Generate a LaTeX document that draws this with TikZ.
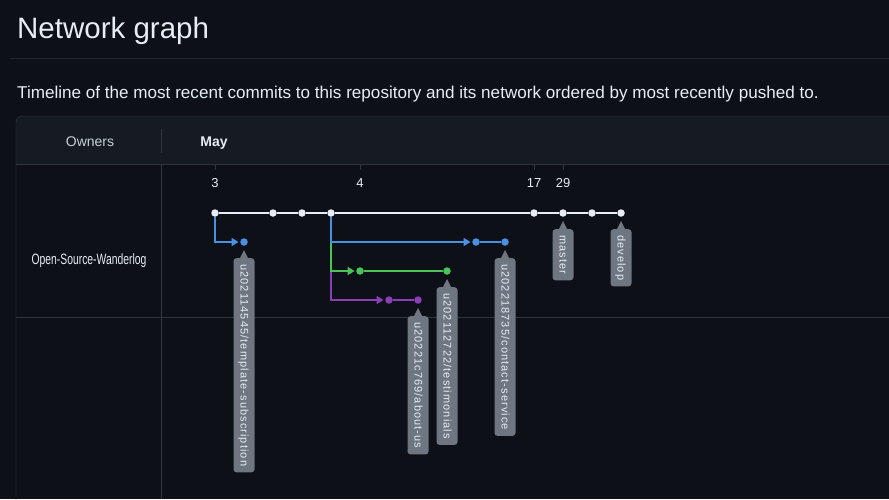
\documentclass[tikz,border=0pt]{standalone}
\usepackage{fontspec}
\setmainfont{Liberation Sans}
\newfontfamily\tagfont[LetterSpace=10]{Liberation Sans}
\newfontfamily\narrowfont[FakeStretch=0.69]{Liberation Sans}
\usepackage{xcolor}
\usetikzlibrary{arrows.meta}
\definecolor{bgdark}{HTML}{0D1117}
\definecolor{bghead}{HTML}{161B22}
\definecolor{rule}{HTML}{30363D}
\definecolor{rulesoft}{HTML}{21262D}
\definecolor{txt}{HTML}{E6EDF3}
\definecolor{txtsoft}{HTML}{C9D1D9}
\definecolor{gblue}{HTML}{4A90E2}
\definecolor{ggreen}{HTML}{4CC35A}
\definecolor{gpurple}{HTML}{8A3FB8}
\definecolor{taggray}{HTML}{6E7681}
\tikzstyle{commit}=[circle, inner sep=0pt, minimum size=7.5pt]
\tikzstyle{edge}=[line width=2pt]
\tikzstyle{tip>}=[-{Triangle[length=7pt,width=8pt]}, shorten >=1.5pt]
\tikzstyle{tag}=[rotate=-90, anchor=west, fill=taggray, rounded corners=3pt, text=txt,
  font=\tagfont\fontsize{11}{11}\selectfont, minimum height=21pt,
  inner xsep=6pt, inner ysep=0pt, text height=8pt, text depth=1pt]
\tikzstyle{lbl}=[inner sep=0pt, anchor=base]

\begin{document}
\begin{tikzpicture}[x=1pt,y=-1pt]
\fill[bgdark] (0,0) rectangle (889,499);
\useasboundingbox (0,0) rectangle (889,499);
% heading
\node[lbl, anchor=base west, text=txt, font=\fontsize{29.5}{34}\selectfont] (title) at (17,38) {Network graph};
\draw[rulesoft] (10,58) -- (889,58);
\node[lbl, anchor=base west, text=txt, font=\fontsize{17.1}{20}\selectfont] (sub) at (17,98)
  {Timeline of the most recent commits to this repository and its network ordered by most recently pushed to.};
% table frame
\fill[bghead] (16,164) [rounded corners=6pt] -- (16,116) -- (900,116) [sharp corners] -- (900,164) -- cycle;
\draw[rule] (16,510) [rounded corners=6pt] -- (16,116) -- (900,116);
\draw[rule] (16,164) -- (889,164);
\draw[rule] (16,317) -- (889,317);
\draw[rule] (161,164) -- (161,499);
\draw[rule] (161,129) -- (161,153);
\node[lbl, text=txtsoft, font=\fontsize{14}{16}\selectfont] (owners) at (90,146) {Owners};
\node[lbl, text=txt, font=\bfseries\fontsize{14}{16}\selectfont] (month) at (214,146) {May};
\node[lbl, text=txt, font=\narrowfont\fontsize{15}{17}\selectfont] (owner) at (89,264) {Open-Source-Wanderlog};
% days
\foreach \c/\d in {0/3,5/4,11/17,12/29}{
  \draw[rule] ({215+29*\c},164) -- ++(0,6);
  \node[lbl, text=txt, font=\fontsize{13}{15}\selectfont] (day\d) at ({215+29*\c},187) {\d};
}
% commits
\foreach \c in {0,2,3,4,11,12,13,14}
  \node[commit, fill=txt] (m\c) at ({215+29*\c},213) {};
\foreach \c in {1,9,10}
  \node[commit, fill=gblue] (b\c) at ({215+29*\c},242) {};
\foreach \c in {5,8}
  \node[commit, fill=ggreen] (g\c) at ({215+29*\c},271) {};
\foreach \c in {6,7}
  \node[commit, fill=gpurple] (p\c) at ({215+29*\c},300) {};
% lines
\draw[edge, txt] (m0) -- (m2) -- (m3) -- (m4) -- (m11) -- (m12) -- (m13) -- (m14);
\draw[edge, gpurple, tip>] (m4) |- (p6);
\draw[edge, gpurple] (p6) -- (p7);
\draw[edge, ggreen, tip>] (m4) |- (g5);
\draw[edge, ggreen] (g5) -- (g8);
\draw[edge, gblue, tip>] (m4) |- (b9);
\draw[edge, gblue] (b9) -- (b10);
\draw[edge, gblue, tip>] (m0) |- (b1);
% branch tags
\node[tag] (t1) at ([yshift=-16pt]b1.center) {u202114545/template-subscription};
\node[tag] (t7) at ([yshift=-16pt]p7.center) {u20221c769/about-us};
\node[tag] (t8) at ([yshift=-16pt]g8.center) {u202112722/testimonials};
\node[tag] (t10) at ([yshift=-16pt]b10.center) {u202218735/contact-service};
\node[tag] (tm) at ([yshift=-16pt]m12.center) {master};
\node[tag] (td) at ([yshift=-16pt]m14.center) {develop};
\foreach \t in {t1,t7,t8,t10,tm,td}
  \fill[taggray] (\t.west) ++(-4.5,1) -- ++(4.5,-9) -- ++(4.5,9) -- cycle;
\end{tikzpicture}
\end{document}
